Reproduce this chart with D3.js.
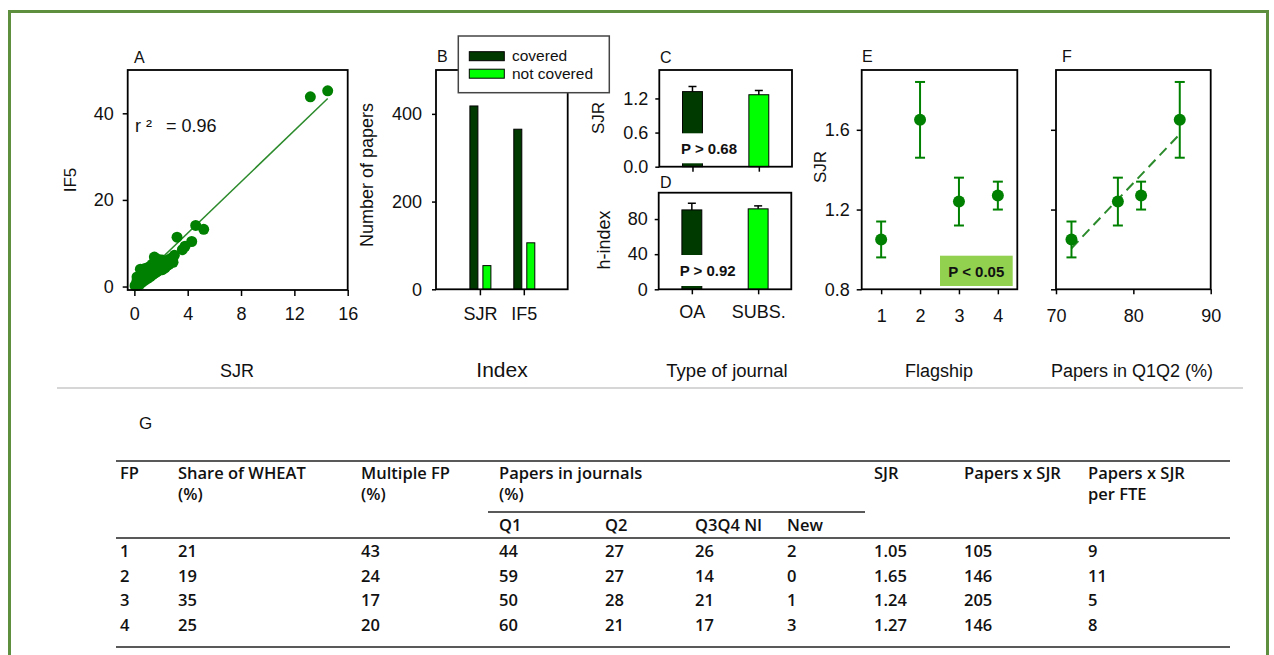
<!DOCTYPE html>
<html><head><meta charset="utf-8">
<script src="https://cdn.jsdelivr.net/npm/d3@7"></script>
<style>
body{margin:0;background:#fff}
svg{display:block}
text{font-family:"Liberation Sans",Arial,sans-serif;fill:#111}
text.tbl{font-family:"Open Sans","Noto Sans",sans-serif;font-weight:600;font-size:16.5px;fill:#111}
</style>
</head><body>
<svg id="c" width="1274" height="655"></svg>
<script>
// ---------------- DATA ----------------
// Panel A: SJR vs IF5 of journals
const scatterA = [
 [0.05,0.2],[0.15,0.6],[0.2,1.4],[0.2,2.2],[0.25,0.3],[0.3,0.9],[0.35,2.0],[0.4,0.5],[0.45,1.3],[0.45,4.0],
 [0.5,2.6],[0.55,3.6],[0.6,1.0],[0.65,1.9],[0.7,3.0],[0.75,4.1],[0.8,1.5],[0.85,2.4],[0.9,3.4],[0.95,4.3],
 [1.0,1.9],[1.05,2.9],[1.1,3.8],[1.15,4.6],[1.2,2.3],[1.25,3.3],[1.3,4.3],[1.35,5.2],[1.4,2.8],[1.45,3.8],
 [1.5,6.8],[1.55,4.6],[1.6,3.2],[1.65,5.6],[1.7,4.2],[1.75,6.3],[1.8,3.6],[1.85,5.0],[1.9,5.9],[2.0,4.2],
 [2.05,6.1],[2.1,3.9],[2.2,5.0],[2.3,4.3],[2.35,5.8],[2.45,4.9],[2.55,6.2],[2.6,5.1],[2.7,5.7],[2.8,6.6],
 [2.9,5.6],[3.0,7.2],[3.2,11.4],[3.6,8.5],[3.8,9.3],[4.3,10.4],[4.6,14.1],[5.2,13.2],[13.2,43.8],[14.5,45.2]
];
const fitA = [[0.1,0.8],[14.5,43.4]];
const r2Text = "= 0.96";
const ticksAx = [0,4,8,12,16];
const ticksAy = [0,20,40];

// Panel B: number of papers
const indexCats = ["SJR","IF5"];
const covered = [418,365];
const notCovered = [54,106];
const legendLabels = ["covered","not covered"];
const ticksBy = [0,200,400];

// Panels C, D: journal type
const journalTypes = ["OA","SUBS."];
const sjrType = [1.32,1.265];
const sjrTypeErr = [0.09,0.075];
const hType = [90.4,91.6];
const hTypeErr = [7.6,3.4];
const pC = "P > 0.68", pD = "P > 0.92";
const ticksCy = [0,0.6,1.2];
const ticksDy = [0,40,80];

// Panel E: SJR by flagship
const flagships = [1,2,3,4];
const sjrFlag = [1.05,1.65,1.24,1.27];
const sjrFlagErr = [0.09,0.19,0.12,0.07];
const pE = "P < 0.05";
const ticksEy = [0.8,1.2,1.6];

// Panel F: SJR vs papers in Q1Q2
const q1q2 = [72,86,78,81];
const fitF = [[72,1.006],[86,1.578]];
const ticksFx = [70,80,90];

// Panel G: table
const fp = [1,2,3,4];
const shareWheat = [21,19,35,25];
const multipleFP = [43,24,17,20];
const q1 = [44,59,50,60];
const q2 = [27,27,28,21];
const q3q4 = [26,14,21,17];
const newJ = [2,0,1,3];
const sjrTbl = ["1.05","1.65","1.24","1.27"];
const papersSjr = [105,146,205,146];
const perFte = [9,11,5,8];

// ---------------- DRAW ----------------
const svg = d3.select("#c");
const GREEN = "#008000", DARK = "#013a01", LIME = "#00ff00";
svg.append("rect").attr("width",1274).attr("height",655).attr("fill","#fff");
svg.append("rect").attr("x",9.5).attr("y",11.5).attr("width",1258).attr("height",700)
  .attr("fill","none").attr("stroke","#5e8f3e").attr("stroke-width",3);
svg.append("line").attr("x1",57).attr("x2",1243).attr("y1",388).attr("y2",388)
  .attr("stroke","#c8c8c8").attr("stroke-width",1.5);

function styleAxis(g){
  g.select(".domain").remove();
  g.attr("font-size",18).attr("font-family","Liberation Sans, Arial, sans-serif");
  g.selectAll("line").attr("stroke","#000").attr("stroke-width",1.5);
  g.selectAll("text").attr("fill","#111");
  return g;
}
function frame(x,y){
  const [x0,x1]=x.range(), [y0,y1]=y.range();
  svg.append("rect").attr("x",x0).attr("y",y1).attr("width",x1-x0).attr("height",y0-y1)
    .attr("fill","none").attr("stroke","#000").attr("stroke-width",1.8);
}
function letter(t,x,y){svg.append("text").attr("x",x).attr("y",y).attr("font-size",16).text(t);}
function xlabel(t,x,size){svg.append("text").attr("x",x).attr("y",377).attr("text-anchor","middle").attr("font-size",size||18).text(t);}
function ylabel(t,x,y,size){svg.append("text").attr("transform",`translate(${x},${y}) rotate(-90)`).attr("text-anchor","middle").attr("font-size",size||18).text(t);}

// ---- Panel A ----
const xA = d3.scaleLinear([-0.5,16],[127.7,347.7]);
const yA = d3.scaleLinear([-0.8,50],[290,70]);
styleAxis(svg.append("g").attr("transform","translate(0,290)").call(d3.axisBottom(xA).tickValues(ticksAx).tickSize(6).tickPadding(11)));
styleAxis(svg.append("g").attr("transform","translate(127.7,0)").call(d3.axisLeft(yA).tickValues(ticksAy).tickSize(5).tickPadding(9)));
svg.append("line").attr("x1",xA(fitA[0][0])).attr("y1",yA(fitA[0][1])).attr("x2",xA(fitA[1][0])).attr("y2",yA(fitA[1][1]))
  .attr("stroke","#2b8a2b").attr("stroke-width",1.5);
svg.append("g").selectAll("circle").data(scatterA).join("circle")
  .attr("cx",d=>xA(d[0])).attr("cy",d=>yA(d[1])).attr("r",5.5).attr("fill",GREEN);
frame(xA,yA);
letter("A",134,63);
svg.append("text").attr("x",135).attr("y",132).attr("font-size",18).text("r \u00b2");
svg.append("text").attr("x",166).attr("y",132).attr("font-size",18).text(r2Text);
ylabel("IF5",76,180,17);
xlabel("SJR",237,18);

// ---- Panel B ----
const xB = d3.scaleLinear([0,3],[436,567.7]);
const yB = d3.scaleLinear([0,500],[289.3,70]);
styleAxis(svg.append("g").attr("transform","translate(0,289.3)").call(d3.axisBottom(xB).tickValues([1,2]).tickFormat((d,i)=>indexCats[i]).tickSize(6).tickPadding(12)));
styleAxis(svg.append("g").attr("transform","translate(436,0)").call(d3.axisLeft(yB).tickValues(ticksBy).tickSize(4).tickPadding(10)));
const bg = svg.append("g");
bg.selectAll("rect.cov").data(covered).join("rect").attr("class","cov")
  .attr("x",(d,i)=>xB(i+1)-10).attr("width",8).attr("y",d=>yB(d)).attr("height",d=>yB(0)-yB(d))
  .attr("fill",DARK).attr("stroke","#000").attr("stroke-width",1);
bg.selectAll("rect.nc").data(notCovered).join("rect").attr("class","nc")
  .attr("x",(d,i)=>xB(i+1)+3).attr("width",8).attr("y",d=>yB(d)).attr("height",d=>yB(0)-yB(d))
  .attr("fill",LIME).attr("stroke","#000").attr("stroke-width",1);
frame(xB,yB);
letter("B",437,62);
const lg = svg.append("g");
lg.append("rect").attr("x",458.3).attr("y",36).attr("width",151).attr("height",56.7)
  .attr("fill","#fff").attr("stroke","#444").attr("stroke-width",1.5);
lg.selectAll("rect.sw").data(legendLabels).join("rect").attr("class","sw")
  .attr("x",469.3).attr("y",(d,i)=>51.7+i*17.5).attr("width",35).attr("height",9)
  .attr("fill",(d,i)=>i?LIME:DARK).attr("stroke","#000").attr("stroke-width",1);
lg.selectAll("text").data(legendLabels).join("text")
  .attr("x",512).attr("y",(d,i)=>61+i*17.5).attr("font-size",15.5).text(d=>d);
ylabel("Number of papers",373,175,18);
xlabel("Index",502,21);

// ---- Panels C & D ----
function typePanel(x,y,vals,errs,ticks,fmt,pText,pBox,showLabels){
  styleAxis(svg.append("g").attr("transform",`translate(0,${y.range()[0]})`)
    .call(d3.axisBottom(x).tickValues([1,2]).tickFormat(showLabels?((d,i)=>journalTypes[i]):"").tickSize(5).tickPadding(10.6)));
  styleAxis(svg.append("g").attr("transform",`translate(${x.range()[0]},0)`)
    .call(d3.axisLeft(y).tickValues(ticks).tickFormat(fmt).tickSize(4).tickPadding(7)));
  const w = x(1.3)-x(1);
  const g = svg.append("g");
  g.selectAll("rect").data(vals).join("rect")
    .attr("x",(d,i)=>x(i+1)-w/2).attr("width",w).attr("y",d=>y(d)).attr("height",d=>y(0)-y(d))
    .attr("fill",(d,i)=>i?LIME:DARK).attr("stroke","#000").attr("stroke-width",1);
  g.selectAll("line.e").data(vals).join("line").attr("class","e")
    .attr("x1",(d,i)=>x(i+1)).attr("x2",(d,i)=>x(i+1)).attr("y1",d=>y(d)).attr("y2",(d,i)=>y(d+errs[i]))
    .attr("stroke","#000").attr("stroke-width",1.5);
  g.selectAll("line.c").data(vals).join("line").attr("class","c")
    .attr("x1",(d,i)=>x(i+1)-4).attr("x2",(d,i)=>x(i+1)+4).attr("y1",(d,i)=>y(d+errs[i])).attr("y2",(d,i)=>y(d+errs[i]))
    .attr("stroke","#000").attr("stroke-width",1.5);
  g.append("rect").attr("x",pBox[0]).attr("y",pBox[1]).attr("width",pBox[2]).attr("height",pBox[3]).attr("fill","#fff");
  g.append("text").attr("x",pBox[0]+pBox[2]/2).attr("y",pBox[1]+pBox[3]/2+5.5).attr("text-anchor","middle")
    .attr("font-size",15).attr("font-weight","bold").text(pText);
  frame(x,y);
}
const xC = d3.scaleLinear([0.5,2.5],[659.3,792]);
const yC = d3.scaleLinear([0,1.7],[166.7,70]);
typePanel(xC,yC,sjrType,sjrTypeErr,ticksCy,d3.format(".1f"),pC,[672.3,133.3,73.4,30],false);
const xD = d3.scaleLinear([0.5,2.5],[658.7,791.3]);
const yD = d3.scaleLinear([0,110],[289.3,192.7]);
typePanel(xD,yD,hType,hTypeErr,ticksDy,d3.format("d"),pD,[671,255,73.3,31],true);
letter("C",660,62.7);
letter("D",660,188);
ylabel("SJR",604,118,17);
ylabel("h-index",610,240,18);
xlabel("Type of journal",727,18.5);

// ---- Panel E ----
function errDots(g,x,y,xs,vals,errs){
  g.selectAll("line.v").data(vals).join("line").attr("class","v")
    .attr("x1",(d,i)=>x(xs[i])).attr("x2",(d,i)=>x(xs[i])).attr("y1",(d,i)=>y(d-errs[i])).attr("y2",(d,i)=>y(d+errs[i]))
    .attr("stroke",GREEN).attr("stroke-width",2);
  [-1,1].forEach(s=>{
    g.selectAll("line.cap"+(s>0?"t":"b")).data(vals).join("line").attr("class","cap"+(s>0?"t":"b"))
      .attr("x1",(d,i)=>x(xs[i])-5).attr("x2",(d,i)=>x(xs[i])+5)
      .attr("y1",(d,i)=>y(d+s*errs[i])).attr("y2",(d,i)=>y(d+s*errs[i]))
      .attr("stroke",GREEN).attr("stroke-width",2);
  });
  g.selectAll("circle").data(vals).join("circle")
    .attr("cx",(d,i)=>x(xs[i])).attr("cy",d=>y(d)).attr("r",6).attr("fill",GREEN);
}
const xE = d3.scaleLinear([0.5,4.5],[861.7,1017.3]);
const yE = d3.scaleLinear([0.8,1.9],[289.3,70]);
styleAxis(svg.append("g").attr("transform","translate(0,289.3)").call(d3.axisBottom(xE).tickValues(flagships).tickFormat(d3.format("d")).tickSize(5).tickPadding(14.6)));
styleAxis(svg.append("g").attr("transform","translate(861.7,0)").call(d3.axisLeft(yE).tickValues(ticksEy).tickFormat(d3.format(".1f")).tickSize(5).tickPadding(7)));
svg.append("rect").attr("x",940).attr("y",255.7).attr("width",72.7).attr("height",30.3).attr("fill","#92d050");
svg.append("text").attr("x",976.3).attr("y",276.5).attr("text-anchor","middle").attr("font-size",15).attr("font-weight","bold").text(pE);
errDots(svg.append("g"),xE,yE,flagships,sjrFlag,sjrFlagErr);
frame(xE,yE);
letter("E",862,61.7);
ylabel("SJR",826,167,17);
xlabel("Flagship",939,18);

// ---- Panel F ----
const xF = d3.scaleLinear([70,90],[1056,1210.7]);
const yF = d3.scaleLinear([0.8,1.9],[289.3,70]);
styleAxis(svg.append("g").attr("transform","translate(0,289.3)").call(d3.axisBottom(xF).tickValues(ticksFx).tickSize(5).tickPadding(14.6)));
styleAxis(svg.append("g").attr("transform","translate(1056,0)").call(d3.axisLeft(yF).tickValues(ticksEy).tickFormat("").tickSize(5)));
svg.append("line").attr("x1",xF(fitF[0][0])).attr("y1",yF(fitF[0][1])).attr("x2",xF(fitF[1][0])).attr("y2",yF(fitF[1][1]))
  .attr("stroke","#2b8a2b").attr("stroke-width",2).attr("stroke-dasharray","10,6");
errDots(svg.append("g"),xF,yF,q1q2,sjrFlag,sjrFlagErr);
frame(xF,yF);
letter("F",1062,61.7);
xlabel("Papers in Q1Q2 (%)",1132,18);

// ---- Panel G: table ----
svg.append("text").attr("x",139).attr("y",429).attr("font-size",17).text("G");
const colX = [120,178,361,499,605,695,787,874,964,1088];
const tg = svg.append("g");
const hdr1 = [["FP",0],["Share of WHEAT",1],["Multiple FP",2],["Papers in journals",3],["SJR",7],["Papers x SJR",8],["Papers x SJR",9]];
const hdr2 = [["(%)",1],["(%)",2],["(%)",3],["per FTE",9]];
const hdr3 = [["Q1",3],["Q2",4],["Q3Q4 NI",5],["New",6]];
[[hdr1,479],[hdr2,500],[hdr3,531]].forEach(([h,yy])=>{
  tg.append("g").selectAll("text").data(h).join("text").attr("class","tbl")
    .attr("x",d=>colX[d[1]]).attr("y",yy).text(d=>d[0]);
});
const rows = fp.map((f,i)=>[f,shareWheat[i],multipleFP[i],q1[i],q2[i],q3q4[i],newJ[i],sjrTbl[i],papersSjr[i],perFte[i]]);
const rowY = d3.scaleLinear([0,3],[557,631]);
tg.selectAll("g.row").data(rows).join("g").attr("class","row")
  .attr("transform",(d,i)=>`translate(0,${rowY(i)})`)
  .selectAll("text").data(d=>d).join("text").attr("class","tbl")
  .attr("x",(d,j)=>colX[j]).text(d=>d);
const lines = [[116,1230,461],[488,865,512],[116,1230,538],[116,1230,647]];
tg.selectAll("line").data(lines).join("line")
  .attr("x1",d=>d[0]).attr("x2",d=>d[1]).attr("y1",d=>d[2]).attr("y2",d=>d[2])
  .attr("stroke","#222").attr("stroke-width",1.3);
</script>
</body></html>
